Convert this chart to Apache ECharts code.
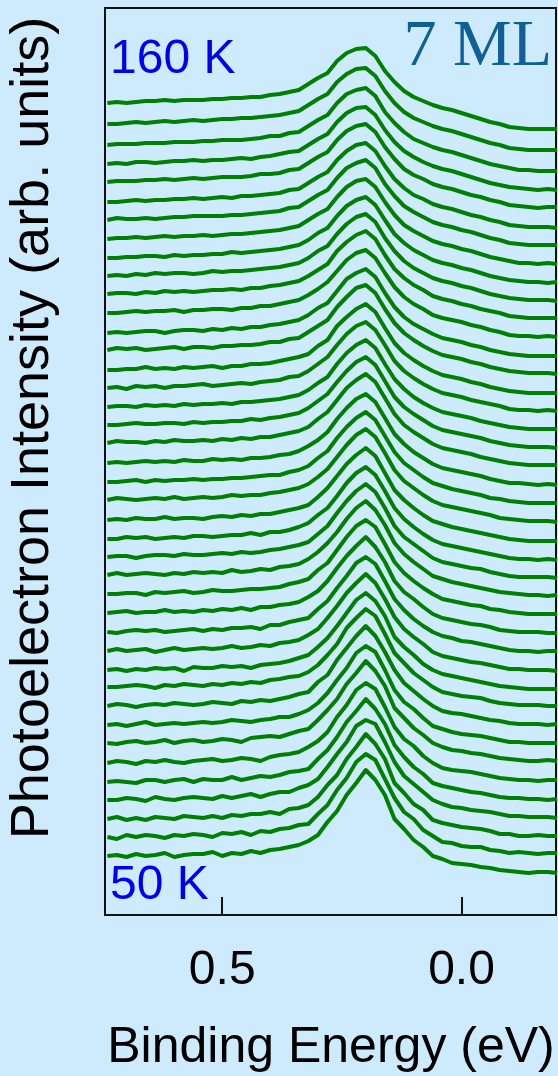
<!DOCTYPE html>
<html>
<head>
<meta charset="utf-8">
<script src="https://cdn.jsdelivr.net/npm/echarts@6/dist/echarts.min.js"></script>
<style>
html,body{margin:0;padding:0;background:#cdebfc;}
#chart{width:558px;height:1076px;}
</style>
</head>
<body>
<div id="chart"></div>
<script>
// Binding energy grid (eV)
const energy = [0.74,0.72,0.70,0.68,0.66,0.64,0.62,0.60,0.58,0.56,
  0.54,0.52,0.50,0.48,0.46,0.44,0.42,0.40,0.38,0.36,
  0.34,0.32,0.30,0.28,0.26,0.24,0.22,0.20,0.18,0.16,
  0.14,0.12,0.10,0.08,0.06,0.04,0.02,0.00,-0.02,-0.04,
  -0.06,-0.08,-0.10,-0.12,-0.14,-0.16,-0.18,-0.20];

// vertical offsets of each spectrum (bottom = 50 K, top = 160 K)
const offsets = [59,78,96,115,133,152,172,190,209,228,
  245,264,283,302,321,340,358,376,395,415,
  433,452,472,490,508,527,545,565,582,602,
  621,639,657,676,695,713,733,751,770,791,812];

const xTickValues = [0.5, 0.0];
const xTickLabels = ['0.5', '0.0'];
const tempLabels = ['50 K', '160 K'];

// spectra intensities relative to each curve's low-energy-side level
const spectra = [
[0,1,-1,2,0,1,3,-1,1,2, 2,4,0,3,2,5,3,6,7,9, 11,15,21,34,45,61,73,86,76,61, 37,27,16,9,0,-3,-7,-8,-9,-11, -12,-14,-15,-16,-17,-16,-16,-17],
[0,-2,2,0,2,1,-1,2,1,3, 2,0,4,3,5,2,6,5,8,9, 12,13,23,32,47,59,75,83,77,58, 39,25,18,7,1,-5,-6,-9,-10,-10, -13,-14,-16,-15,-16,-17,-16,-16],
[0,2,-1,1,-1,2,1,0,3,2, 1,3,1,4,3,5,5,7,5,10, 11,14,22,34,44,60,72,85,75,60, 36,26,15,9,-1,-4,-6,-8,-9,-10, -12,-15,-15,-17,-17,-16,-17,-17],
[0,0,2,1,-1,3,1,0,2,3, 2,1,4,2,4,6,3,6,8,8, 12,15,21,33,46,58,74,80,76,58, 38,24,16,8,0,-4,-7,-8,-10,-11, -12,-14,-16,-16,-17,-17,-17,-18],
[0,1,0,-1,2,2,0,2,3,0, 3,2,2,5,2,4,6,5,7,10, 11,13,23,32,45,60,71,83,73,58, 37,25,15,8,-1,-4,-6,-8,-10,-11, -13,-15,-16,-16,-17,-17,-18,-17],
[0,2,1,-1,2,1,3,1,0,2, 3,4,2,3,5,4,2,6,8,9, 11,16,22,31,46,58,73,80,74,56, 36,24,17,7,0,-5,-7,-8,-9,-11, -13,-15,-16,-17,-17,-18,-17,-17],
[0,-1,1,2,0,1,3,0,2,3, 1,2,4,3,1,5,6,7,6,9, 12,14,23,33,44,59,70,82,72,57, 35,25,15,8,0,-4,-7,-8,-10,-11, -13,-15,-16,-17,-18,-18,-17,-18],
[0,1,-1,1,3,0,1,2,1,2, 3,2,3,5,4,3,5,6,8,8, 11,15,22,32,45,57,72,79,73,55, 35,23,16,7,-1,-4,-7,-9,-10,-11, -13,-15,-17,-17,-18,-18,-18,-18],
[0,2,1,-1,1,2,1,3,2,1, 2,4,3,2,5,4,6,5,7,9, 12,14,24,31,46,58,70,80,70,54, 36,23,15,7,0,-5,-7,-8,-10,-12, -14,-15,-17,-18,-18,-18,-19,-18],
[0,0,1,2,1,-1,2,1,3,2, 1,3,2,4,3,5,4,7,8,10, 11,15,22,32,43,59,69,78,71,53, 34,24,14,7,0,-5,-7,-9,-10,-11, -14,-16,-17,-18,-18,-18,-19,-19],
[0,1,-1,1,0,2,1,2,-1,3, 2,2,4,3,4,2,5,6,7,9, 12,15,23,32,44,57,70,77,69,54, 33,23,15,6,0,-4,-6,-8,-10,-12, -14,-16,-17,-18,-19,-19,-19,-19],
[0,2,0,1,2,-1,1,3,1,2, 3,2,3,5,3,4,6,5,8,9, 11,16,22,33,45,58,68,77,68,52, 34,22,14,7,-1,-5,-7,-9,-11,-12, -14,-16,-18,-18,-19,-19,-19,-20],
[0,-1,1,2,1,2,0,1,2,3, 1,3,2,4,4,5,3,7,7,10, 12,14,23,31,44,56,69,75,68,51, 33,22,13,6,0,-4,-6,-9,-10,-12, -14,-16,-18,-19,-19,-20,-19,-19],
[0,1,2,0,1,1,3,1,2,1, 3,2,4,3,5,3,6,6,8,9, 11,16,22,32,45,57,67,76,66,51, 32,21,14,6,-1,-5,-7,-9,-11,-12, -14,-17,-18,-19,-19,-19,-20,-20],
[0,0,1,1,-1,2,1,2,3,1, 2,4,3,3,4,5,5,6,7,10, 12,15,24,31,44,57,68,74,67,50, 32,21,13,6,0,-5,-7,-9,-11,-12, -15,-16,-18,-19,-20,-20,-20,-20],
[0,2,0,1,2,1,0,2,1,3, 2,3,2,5,3,4,6,5,8,9, 11,16,23,32,43,56,67,74,65,50, 32,21,13,6,-1,-4,-7,-9,-11,-13, -15,-17,-18,-19,-20,-20,-21,-20],
[0,1,1,-1,1,2,2,1,3,2, 2,3,4,3,5,4,5,7,8,10, 12,15,23,31,44,56,66,73,65,49, 31,20,13,6,-1,-5,-7,-9,-11,-12, -15,-17,-19,-20,-20,-20,-20,-21],
[0,0,2,1,2,0,1,2,1,3, 3,2,3,4,4,6,4,7,7,9, 12,16,24,31,43,56,66,72,64,48, 31,20,12,5,-1,-5,-7,-9,-11,-13, -15,-17,-19,-20,-20,-21,-20,-21],
[0,1,0,2,1,1,3,1,2,2, 1,3,4,3,5,4,6,6,8,10, 12,15,23,32,44,56,65,72,64,47, 30,20,12,5,-1,-4,-7,-9,-11,-13, -15,-17,-19,-20,-21,-21,-21,-21],
[0,2,1,0,1,2,1,3,1,2, 3,2,3,5,4,5,5,7,8,10, 12,16,23,31,43,55,65,71,63,47, 30,19,12,5,-1,-5,-7,-9,-11,-13, -15,-18,-19,-20,-21,-21,-21,-22],
[0,0,1,2,0,2,1,2,2,3, 2,3,3,4,4,5,6,7,7,10, 12,16,24,31,44,55,64,70,62,46, 30,19,12,5,-1,-4,-7,-9,-11,-13, -16,-17,-19,-20,-21,-21,-21,-21],
[0,1,0,1,2,1,2,1,3,2, 2,4,3,4,3,5,5,6,8,9, 12,17,23,31,44,55,64,69,61,45, 29,19,11,5,-1,-5,-7,-9,-11,-13, -16,-18,-20,-20,-21,-22,-21,-22],
[0,2,1,1,0,2,1,3,2,2, 3,2,4,3,5,4,6,6,8,10, 12,16,24,31,43,55,63,69,61,45, 29,18,11,5,-1,-5,-7,-9,-11,-14, -16,-18,-20,-21,-22,-22,-22,-22],
[0,0,1,2,1,1,2,2,1,3, 2,3,3,4,4,6,5,7,8,10, 12,17,24,31,43,54,63,68,60,44, 28,18,11,5,-1,-5,-7,-9,-11,-13, -16,-18,-20,-21,-22,-22,-22,-23],
[0,1,1,0,2,1,2,1,3,2, 3,3,4,3,5,5,6,7,8,10, 12,17,24,30,43,54,62,67,59,43, 28,18,10,4,-1,-5,-7,-9,-11,-14, -16,-18,-20,-21,-22,-22,-22,-22],
[0,1,-1,2,1,2,0,2,2,3, 4,2,3,4,5,4,6,7,8,11, 12,17,24,31,43,54,62,66,58,43, 27,17,10,4,-1,-5,-7,-9,-12,-14, -16,-18,-21,-22,-22,-23,-22,-23],
[0,0,1,1,3,1,2,1,3,2, 3,4,2,4,4,6,6,7,9,11, 13,16,24,30,44,53,61,66,58,42, 27,17,10,4,-1,-5,-7,-9,-12,-14, -17,-19,-21,-22,-23,-23,-23,-23],
[0,2,1,2,0,1,2,3,1,3, 3,2,4,4,5,5,6,8,8,11, 12,18,24,30,43,53,62,65,57,41, 27,17,10,4,-1,-5,-7,-9,-12,-14, -17,-19,-21,-22,-23,-23,-23,-24],
[0,1,0,1,2,2,0,2,3,3, 2,4,3,5,4,6,6,8,9,11, 13,18,25,30,42,54,60,64,56,40, 26,16,9,4,-1,-5,-7,-9,-12,-14, -17,-19,-21,-22,-23,-23,-23,-23],
[0,0,1,2,1,2,2,3,1,3, 3,4,4,3,5,5,7,7,9,11, 13,18,24,31,42,53,60,63,55,40, 26,16,9,4,-2,-5,-7,-9,-12,-14, -17,-19,-22,-23,-23,-24,-23,-24],
[0,1,1,0,2,1,3,2,3,2, 3,4,4,5,4,6,6,8,9,11, 13,18,24,30,43,52,59,63,55,39, 25,16,9,4,-2,-5,-7,-10,-12,-15, -17,-19,-22,-23,-24,-24,-24,-24],
[0,1,0,2,1,3,2,3,3,2, 3,5,4,5,5,6,7,8,9,11, 13,18,25,30,42,52,59,62,54,38, 25,15,8,3,-2,-5,-7,-10,-12,-15, -18,-20,-22,-23,-24,-24,-24,-25],
[0,0,1,1,2,2,1,3,2,3, 3,4,4,6,5,6,7,8,9,11, 13,18,25,30,42,52,58,61,53,38, 24,15,8,3,-2,-5,-7,-10,-12,-15, -18,-20,-22,-23,-24,-24,-25,-24],
[0,1,1,2,1,2,3,2,3,3, 4,3,4,5,5,6,7,8,9,11, 13,19,25,30,42,52,58,60,52,37, 24,14,8,3,-2,-5,-7,-10,-12,-15, -18,-20,-22,-24,-24,-25,-24,-25],
[0,2,1,1,2,1,2,3,3,4, 4,4,4,5,5,6,7,8,9,12, 13,19,25,30,42,52,57,60,52,36, 24,14,8,3,-2,-5,-7,-10,-12,-15, -18,-20,-23,-24,-25,-25,-25,-25],
[0,0,1,2,1,2,2,3,3,4, 3,4,5,4,6,6,7,8,9,12, 13,19,25,30,42,51,57,59,51,36, 23,14,7,3,-2,-5,-7,-10,-13,-15, -18,-20,-23,-24,-25,-25,-25,-26],
[0,1,1,1,2,2,3,2,3,4, 3,4,5,5,5,6,8,8,9,12, 13,19,25,30,42,51,56,58,50,35, 23,13,7,3,-2,-5,-7,-10,-13,-15, -18,-20,-23,-24,-25,-26,-25,-25],
[0,1,0,2,2,1,2,3,3,4, 3,4,4,5,6,5,7,8,10,12, 13,19,25,30,42,51,56,57,49,34, 22,13,7,2,-2,-5,-7,-10,-13,-16, -19,-21,-23,-24,-25,-26,-25,-26],
[0,1,1,1,2,2,2,3,3,3, 4,4,5,5,5,6,7,9,9,12, 13,19,25,30,42,51,55,57,49,33, 22,13,6,2,-2,-5,-7,-10,-13,-16, -19,-21,-23,-25,-25,-26,-26,-26],
[0,0,1,2,1,2,3,2,3,4, 3,4,5,5,6,6,7,8,9,11, 13,19,25,30,42,50,55,56,48,33, 21,12,6,2,-2,-5,-7,-10,-13,-16, -19,-21,-24,-25,-26,-26,-26,-26],
[0,1,0,1,2,2,3,2,3,3, 3,4,4,5,5,6,6,8,9,11, 13,19,25,30,42,50,54,55,47,32, 21,12,6,2,-2,-5,-7,-10,-13,-16, -19,-21,-24,-25,-26,-26,-26,-26]
];

const chart = echarts.init(document.getElementById('chart'), null, {renderer: 'canvas'});

const series = spectra.map((s, i) => ({
  type: 'line',
  name: 'spectrum ' + i,
  showSymbol: false,
  symbol: 'none',
  smooth: false,
  lineStyle: {color: '#008000', width: 4, join: 'round'},
  data: s.map((v, k) => [energy[k], offsets[i] + v]),
  z: 2
}));

const FONT = '"Liberation Sans", Arial, sans-serif';

chart.setOption({
  animation: false,
  backgroundColor: '#cdebfc',
  grid: {
    left: 105, top: 8, right: 2, bottom: 161,
    show: true, borderColor: '#111', borderWidth: 2, backgroundColor: 'transparent'
  },
  xAxis: {
    type: 'value',
    inverse: true,
    min: -0.1975,
    max: 0.745,
    axisLine: {show: false},
    splitLine: {show: false},
    axisTick: {
      show: true, inside: true, length: 18,
      customValues: xTickValues,
      lineStyle: {color: '#111', width: 2}
    },
    axisLabel: {
      show: true,
      customValues: xTickValues,
      formatter: (v) => xTickLabels[xTickValues.indexOf(v)] !== undefined ? xTickLabels[xTickValues.indexOf(v)] : v.toFixed(1),
      fontSize: 48, fontFamily: FONT, color: '#000', margin: 32
    }
  },
  yAxis: {
    type: 'value',
    min: 0, max: 907,
    axisLine: {show: false},
    axisTick: {show: false},
    axisLabel: {show: false},
    splitLine: {show: false}
  },
  graphic: [
    {type: 'text', x: 33, y: 428, rotation: Math.PI / 2,
      style: {text: 'Photoelectron Intensity (arb. units)', fill: '#000', font: '54px ' + FONT,
        textAlign: 'center', textVerticalAlign: 'middle'}},
    {type: 'text', x: 331, y: 1048,
      style: {text: 'Binding Energy (eV)', fill: '#000', font: '50px ' + FONT,
        textAlign: 'center', textVerticalAlign: 'middle'}},
    {type: 'text', x: 110, y: 60, z: 10,
      style: {text: tempLabels[1], fill: '#0000f0', font: '48px ' + FONT,
        textAlign: 'left', textVerticalAlign: 'middle'}},
    {type: 'text', x: 110, y: 886, z: 10,
      style: {text: tempLabels[0], fill: '#0000f0', font: '48px ' + FONT,
        textAlign: 'left', textVerticalAlign: 'middle'}},
    {type: 'text', x: 552, y: 48, z: 10,
      style: {text: '7 ML', fill: '#106096', font: '66px "Liberation Serif", "Times New Roman", serif',
        textAlign: 'right', textVerticalAlign: 'middle'}}
  ],
  series: series
});
</script>
</body>
</html>
